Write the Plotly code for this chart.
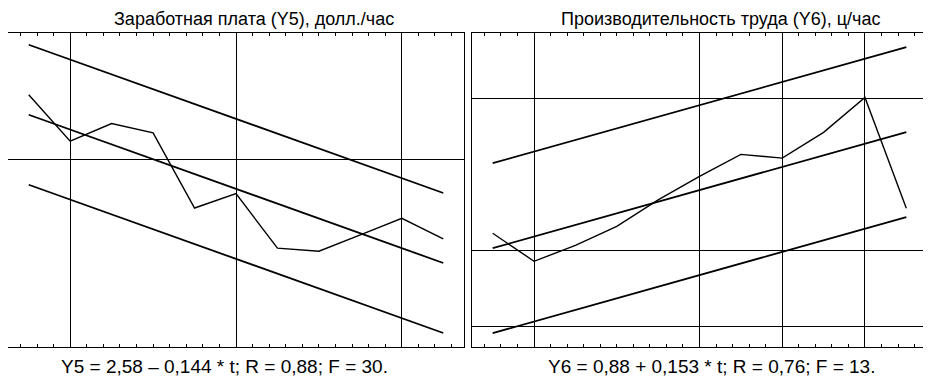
import plotly.graph_objects as go

# ---- data ----
t = list(range(1, 12))
y5 = [2.63, 2.18, 2.35, 2.26, 1.53, 1.67, 1.14, 1.11, 1.27, 1.43, 1.23]
y6 = [1.23, 0.86, 1.07, 1.32, 1.67, 1.98, 2.27, 2.22, 2.56, 3.02, 1.56]
# regression y = a + b*t and confidence band half-width
a5, b5, band5 = 2.58, -0.144, 0.68
a6, b6, band6 = 0.88, 0.153, 1.12
title5 = "Заработная плата (Y5), долл./час"
title6 = "Производительность труда (Y6), ц/час"
eq5 = "Y5 = 2,58 – 0,144 * t; R = 0,88; F = 30."
eq6 = "Y6 = 0,88 + 0,153 * t; R = 0,76; F = 13."
xgrid5 = [2, 6, 10]
ygrid5 = [2]
xgrid6 = [2, 6, 8, 10]
ygrid6 = [0, 1, 3]

# the page body has an 8px default margin; lay out in reference pixels minus it
OFF = 8
W, H = 931 - OFF, 376 - OFF
fig = go.Figure()


def add_panel(fig, y, a, b, band, xa, ya):
    trend = [a + b * ti for ti in t]
    up = [v + band for v in trend]
    lo = [v - band for v in trend]
    for series, w in ((up, 1.8), (trend, 1.8), (lo, 1.8), (y, 1.4)):
        fig.add_trace(go.Scatter(x=t, y=series, mode="lines",
                                 line=dict(color="black", width=w),
                                 xaxis=xa, yaxis=ya, showlegend=False,
                                 hoverinfo="skip"))


add_panel(fig, y5, a5, b5, band5, "x", "y")
add_panel(fig, y6, a6, b6, band6, "x2", "y2")


def px(v):
    return (v - OFF) / W


def py(v):
    return 1 - (v - OFF) / H


common_x = dict(range=[0.5, 11.5], showline=True, mirror="ticks", linecolor="black",
                linewidth=1, gridcolor="black", gridwidth=1, showticklabels=False,
                ticks="inside", ticklen=3, tickcolor="black", zeroline=False,
                minor=dict(ticks="inside", ticklen=3, tickcolor="black", dtick=0.4, tick0=2,
                           showgrid=False))
common_y = dict(showline=True, mirror="ticks", linecolor="black", linewidth=1,
                gridcolor="black", gridwidth=1, showticklabels=False,
                ticks="inside", ticklen=3, tickcolor="black", zeroline=False)

fig.update_layout(
    width=W, height=H,
    margin=dict(l=0, r=0, t=0, b=0),
    paper_bgcolor="white", plot_bgcolor="white",
    font=dict(family="Liberation Sans, Arial, sans-serif", color="black", size=19),
    xaxis=dict(common_x, domain=[px(8), px(464)], tickvals=xgrid5, anchor="y"),
    yaxis=dict(common_y, domain=[py(347), py(33)], range=[0.18, 3.23],
               tickvals=ygrid5, anchor="x"),
    xaxis2=dict(common_x, domain=[px(472), px(927)], tickvals=xgrid6, anchor="y2"),
    yaxis2=dict(common_y, domain=[py(347), py(33)], range=[-0.27, 3.87],
                tickvals=ygrid6, anchor="x2"),
)

# titles: anchored to the top edge of the figure
for txt, x in ((title5, 254), (title6, 720)):
    fig.add_annotation(text=txt, x=px(x), y=1.0, xref="paper", yref="paper",
                       showarrow=False, xanchor="center", yanchor="top",
                       borderpad=0, font=dict(size=18))
# regression equations under the panels
for txt, x in ((eq5, 224), (eq6, 711)):
    fig.add_annotation(text=txt, x=px(x), y=py(366), xref="paper", yref="paper",
                       showarrow=False, xanchor="center", yanchor="middle",
                       font=dict(size=19))

fig.write_html("out.html")
